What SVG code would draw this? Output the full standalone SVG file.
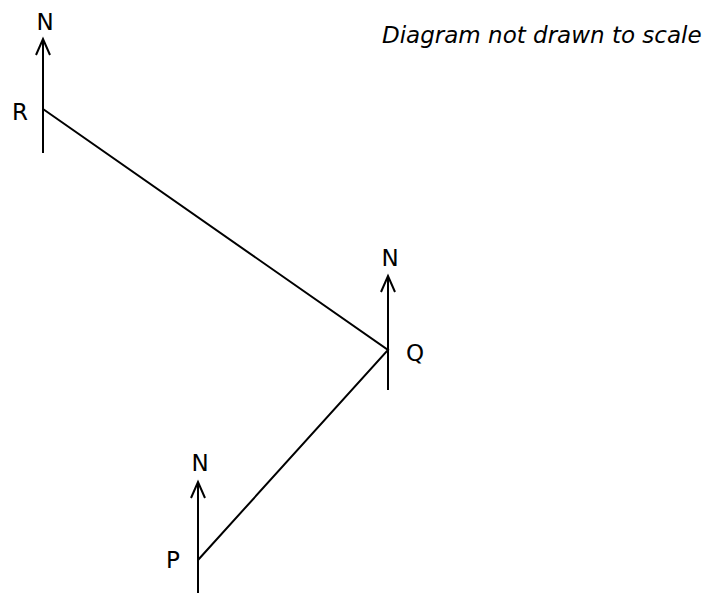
<svg xmlns="http://www.w3.org/2000/svg" width="720" height="595" viewBox="0 0 720 595">
<defs>
<style>
.ln{stroke:#000;stroke-width:2;fill:none}
.t{font-family:"DejaVu Sans",Verdana,sans-serif;font-size:23px;fill:#000}
.note{font-family:"DejaVu Sans",Verdana,sans-serif;font-size:23px;font-style:italic;fill:#000}
</style>
</defs>
<rect width="720" height="595" fill="#fff"/>
<g id="connectors">
<path class="ln" d="M43,109 L388,350 L198,560"/>
</g>
<g id="R">
<path class="ln" d="M43,39 V153 M36,55 L43,39 L50,55"/>
<text class="t" x="45" y="30" text-anchor="middle">N</text>
<text class="t" x="20" y="120" text-anchor="middle">R</text>
</g>
<g id="Q">
<path class="ln" d="M388,276 V390 M381,292 L388,276 L395,292"/>
<text class="t" x="390" y="266" text-anchor="middle">N</text>
<text class="t" x="415" y="361" text-anchor="middle">Q</text>
</g>
<g id="P">
<path class="ln" d="M198,482 V593 M191,498 L198,482 L205,498"/>
<text class="t" x="200" y="471" text-anchor="middle">N</text>
<text class="t" x="173" y="568" text-anchor="middle">P</text>
</g>
<text class="note" x="382" y="43">Diagram not drawn to scale</text>
</svg>
